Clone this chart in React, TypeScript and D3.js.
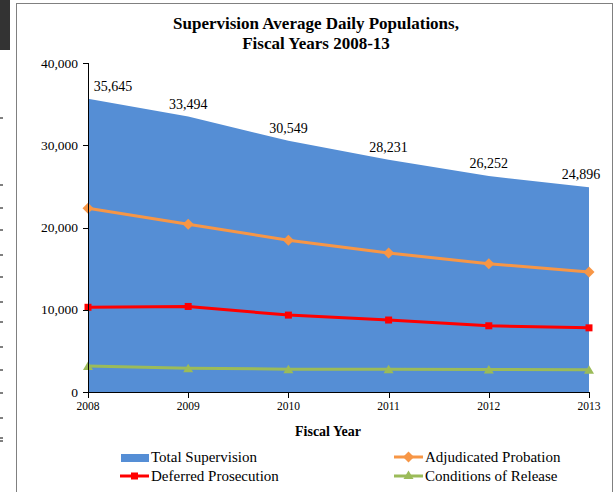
import React from "react";
import * as d3 from "d3";

const years = ["2008", "2009", "2010", "2011", "2012", "2013"];
const totalSupervision = [35645, 33494, 30549, 28231, 26252, 24896];
const adjudicatedProbation = [22350, 20400, 18450, 16900, 15600, 14600];
const deferredProsecution = [10300, 10400, 9350, 8750, 8050, 7800];
const conditionsOfRelease = [3150, 2900, 2780, 2780, 2750, 2720];
const yTicks = [0, 10000, 20000, 30000, 40000];

const W = 615;
const H = 492;
const serif = "'Liberation Serif', 'Times New Roman', serif";

export default function App() {
  const x = d3.scalePoint<string>().domain(years).range([88, 589]);
  const y = d3.scaleLinear().domain([0, 40000]).range([392, 63]);
  const fmt = d3.format(",");

  const area = d3
    .area<number>()
    .x((_, i) => x(years[i]) as number)
    .y0(y(0))
    .y1((d) => y(d));
  const line = d3
    .line<number>()
    .x((_, i) => x(years[i]) as number)
    .y((d) => y(d));

  const diamond = "M0,-5.5L5.5,0L0,5.5L-5.5,0Z";
  const square = d3.symbol().type(d3.symbolSquare).size(49)() as string;
  const triangle = "M0,-4.5L5,4L-5,4Z";

  const series = [
    { name: "Adjudicated Probation", data: adjudicatedProbation, color: "#F79646", marker: diamond },
    { name: "Deferred Prosecution", data: deferredProsecution, color: "#FF0000", marker: square },
    { name: "Conditions of Release", data: conditionsOfRelease, color: "#9BBB59", marker: triangle },
  ];

  const leftDashes = [118, 185, 208, 230, 255, 277, 302, 322, 347, 370, 393, 418, 438, 441];

  return (
    <svg width={W} height={H} style={{ position: "absolute", left: 0, top: 0, background: "#fff" }}>
      <rect x={0} y={0} width={W} height={H} fill="#fff" />
      {/* left artifacts */}
      <rect x={0} y={0} width={10} height={50} fill="#333" />
      {leftDashes.map((d, i) => (
        <line key={i} x1={0} x2={3} y1={d} y2={d} stroke="#000" strokeWidth={1} />
      ))}
      {/* frame */}
      <line x1={16.5} x2={16.5} y1={3} y2={H} stroke="#808080" strokeWidth={1} />
      <line x1={16} x2={612.5} y1={3.5} y2={3.5} stroke="#808080" strokeWidth={1} />
      <line x1={612.5} x2={612.5} y1={3} y2={H} stroke="#808080" strokeWidth={1} />

      {/* title */}
      <text x={316} y={29} textAnchor="middle" fontFamily={serif} fontWeight="bold" fontSize={17}>
        Supervision Average Daily Populations,
      </text>
      <text x={316} y={49} textAnchor="middle" fontFamily={serif} fontWeight="bold" fontSize={17}>
        Fiscal Years 2008-13
      </text>

      {/* area */}
      <path d={area(totalSupervision) as string} fill="#558ED5" />

      {/* lines */}
      {series.map((s) => (
        <g key={s.name}>
          <path d={line(s.data) as string} fill="none" stroke={s.color} strokeWidth={3} />
          {s.data.map((v, i) => (
            <path
              key={i}
              d={s.marker}
              transform={`translate(${x(years[i])},${y(v)})`}
              fill={s.color}
            />
          ))}
        </g>
      ))}

      {/* data labels */}
      {totalSupervision.map((v, i) => {
        const px = x(years[i]) as number;
        const cx = Math.min(Math.max(px, 113), 581);
        return (
          <text key={i} x={cx} y={y(v) - 8} textAnchor="middle" fontFamily={serif} fontSize={14}>
            {fmt(v)}
          </text>
        );
      })}

      {/* y axis */}
      <line x1={88.5} x2={88.5} y1={63} y2={392} stroke="#000" />
      {yTicks.map((t) => (
        <g key={t}>
          <line x1={83} x2={88.5} y1={Math.round(y(t)) + 0.5} y2={Math.round(y(t)) + 0.5} stroke="#000" />
          <text x={78} y={y(t) + 4.5} textAnchor="end" fontFamily={serif} fontSize={13.5}>
            {fmt(t)}
          </text>
        </g>
      ))}

      {/* x axis */}
      <line x1={88} x2={589.5} y1={392.5} y2={392.5} stroke="#000" />
      {years.map((yr) => (
        <g key={yr}>
          <line
            x1={Math.round(x(yr) as number) + 0.5}
            x2={Math.round(x(yr) as number) + 0.5}
            y1={392}
            y2={398}
            stroke="#000"
          />
          <text x={x(yr)} y={410} textAnchor="middle" fontFamily={serif} fontSize={11.5}>
            {yr}
          </text>
        </g>
      ))}
      <text x={328} y={436} textAnchor="middle" fontFamily={serif} fontWeight="bold" fontSize={14}>
        Fiscal Year
      </text>

      {/* legend */}
      <g fontFamily={serif} fontSize={15}>
        <rect x={121} y={454} width={28} height={8} fill="#558ED5" />
        <text x={151} y={462}>Total Supervision</text>

        <line x1={120} x2={149} y1={476} y2={476} stroke="#FF0000" strokeWidth={3} />
        <path d={square} transform="translate(134.5,476)" fill="#FF0000" />
        <text x={151} y={481}>Deferred Prosecution</text>

        <line x1={394} x2={423} y1={457} y2={457} stroke="#F79646" strokeWidth={3} />
        <path d={diamond} transform="translate(408.5,457)" fill="#F79646" />
        <text x={425} y={462}>Adjudicated Probation</text>

        <line x1={394} x2={423} y1={476} y2={476} stroke="#9BBB59" strokeWidth={3} />
        <path d={triangle} transform="translate(408.5,475)" fill="#9BBB59" />
        <text x={425} y={481}>Conditions of Release</text>
      </g>
    </svg>
  );
}
